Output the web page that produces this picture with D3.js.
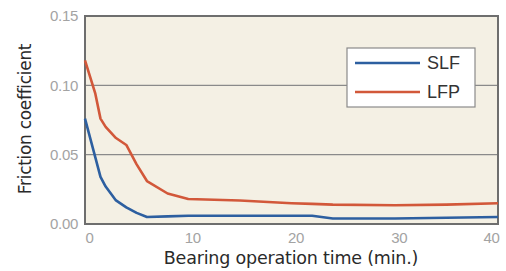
<!DOCTYPE html>
<html>
<head>
<meta charset="utf-8">
<script src="https://cdn.jsdelivr.net/npm/d3@7"></script>
<style>
  body { margin: 0; background: #fff; }
  svg { display: block; font-family: 'DejaVu Sans', 'Liberation Sans', Arial, sans-serif; }
</style>
</head>
<body>
<div id="chart"></div>
<script>
const times = [0, 1, 1.5, 2, 3, 4, 5, 6, 8, 10, 15, 20, 22, 24, 30, 35, 40];
const slfValues = [0.076, 0.048, 0.034, 0.027, 0.017, 0.012, 0.008, 0.005, 0.0055, 0.006, 0.006, 0.006, 0.006, 0.004, 0.004, 0.0045, 0.005];
const lfpValues = [0.118, 0.094, 0.076, 0.07, 0.062, 0.057, 0.043, 0.031, 0.022, 0.018, 0.017, 0.015, 0.0145, 0.014, 0.0135, 0.014, 0.015];
const xTicks = [0, 10, 20, 30, 40];
const yTicks = [0, 0.05, 0.1, 0.15];
const seriesNames = ['SLF', 'LFP'];
const seriesColors = ['#2d5fa0', '#d2583a'];

const totalWidth = 506;
const totalHeight = 271;
const margin = { top: 16, right: 8, bottom: 47, left: 85 };
const width = totalWidth - margin.left - margin.right;
const height = totalHeight - margin.top - margin.bottom;

const xScale = d3.scaleLinear().domain([0, 40]).range([0, width]);
const yScale = d3.scaleLinear().domain([0, 0.15]).range([height, 0]);

const svg = d3
  .select('#chart')
  .append('svg')
  .attr('width', totalWidth)
  .attr('height', totalHeight)
  .append('g')
  .attr('transform', `translate(${margin.left}, ${margin.top})`);

// Plot background
svg
  .append('rect')
  .attr('width', width)
  .attr('height', height)
  .attr('fill', '#f4f0e4');

// Gridlines
svg
  .selectAll('.grid')
  .data(yTicks.filter((t) => t > 0 && t < 0.15))
  .join('line')
  .attr('x1', 0)
  .attr('x2', width)
  .attr('y1', (d) => yScale(d))
  .attr('y2', (d) => yScale(d))
  .attr('stroke', '#8a8a8a')
  .attr('stroke-width', 1.2);

// Frame
svg
  .append('rect')
  .attr('width', width)
  .attr('height', height)
  .attr('fill', 'none')
  .attr('stroke', '#6e6e6e')
  .attr('stroke-width', 2);

// Y axis tick labels
const yAxis = svg
  .append('g')
  .call(d3.axisLeft(yScale).tickValues(yTicks).tickFormat(d3.format('.2f')).tickSize(0).tickPadding(7));
yAxis.select('.domain').remove();
yAxis
  .selectAll('text')
  .attr('fill', '#a3a3a3')
  .style('font-size', '15px')
  .style('letter-spacing', '-0.3px');

// X axis tick labels
const xAxis = svg
  .append('g')
  .attr('transform', `translate(0, ${height})`)
  .call(d3.axisBottom(xScale).tickValues(xTicks).tickSize(0).tickPadding(8));
xAxis.select('.domain').remove();
xAxis
  .selectAll('text')
  .attr('fill', '#a3a3a3')
  .attr('dx', (d) => (d === 40 ? -7 : 4))
  .style('font-size', '15px')
  .style('letter-spacing', '-0.3px');

// Axis titles
svg
  .append('text')
  .attr('x', 206)
  .attr('y', height + 40)
  .attr('text-anchor', 'middle')
  .attr('fill', '#2a2a2a')
  .style('font-size', '17.5px')
  .style('letter-spacing', '-0.2px')
  .text('Bearing operation time (min.)');

svg
  .append('text')
  .attr('transform', `translate(-54, ${height / 2 - 1}) rotate(-90)`)
  .attr('text-anchor', 'middle')
  .attr('fill', '#2a2a2a')
  .style('font-size', '17px')
  .style('letter-spacing', '-0.3px')
  .text('Friction coefficient');

// Lines
const line = d3
  .line()
  .x((d, i) => xScale(times[i]))
  .y((d) => yScale(d));

[slfValues, lfpValues].forEach((values, i) => {
  svg
    .append('path')
    .datum(values)
    .attr('d', line)
    .attr('fill', 'none')
    .attr('stroke', seriesColors[i])
    .attr('stroke-width', 2.6)
    .attr('stroke-linejoin', 'round');
});

// Legend
const legend = svg.append('g').attr('transform', 'translate(262, 32)');
legend
  .append('rect')
  .attr('width', 128)
  .attr('height', 59)
  .attr('fill', '#fff')
  .attr('stroke', '#8a8a8a')
  .attr('stroke-width', 1.2);

seriesNames.forEach((name, i) => {
  const ly = 15 + i * 29;
  legend
    .append('line')
    .attr('x1', 8)
    .attr('x2', 73)
    .attr('y1', ly)
    .attr('y2', ly)
    .attr('stroke', seriesColors[i])
    .attr('stroke-width', 2.6);
  legend
    .append('text')
    .attr('x', 80)
    .attr('y', ly + 6)
    .attr('fill', '#333')
    .style('font-family', "'Liberation Sans', Arial, sans-serif")
    .style('font-size', '18px')
    .text(name);
});
</script>
</body>
</html>
